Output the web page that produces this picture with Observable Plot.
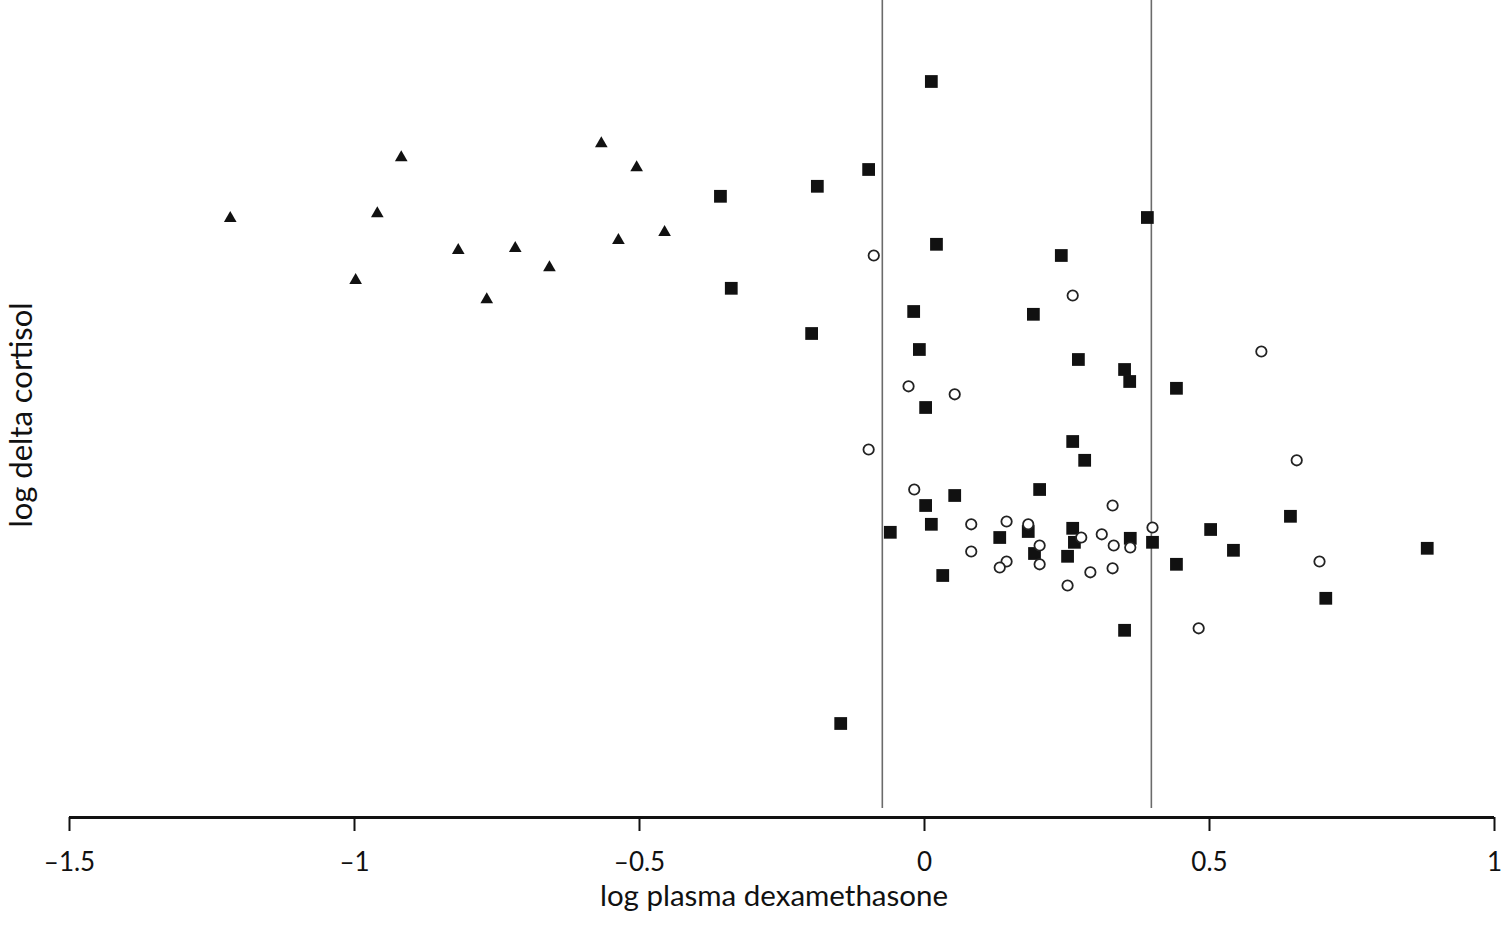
<!DOCTYPE html>
<html>
<head>
<meta charset="utf-8">
<script src="https://cdn.jsdelivr.net/npm/d3@7"></script>
<script src="https://cdn.jsdelivr.net/npm/@observablehq/plot@0.6"></script>
<style>
  html, body { margin: 0; padding: 0; background: #fff; }
  #chart { width: 1511px; height: 939px; }
</style>
</head>
<body>
<div id="chart"></div>
<script>
// Group 1: filled triangles
const triX = [-1.218, -0.998, -0.960, -0.918, -0.818, -0.768, -0.718, -0.658, -0.567, -0.537, -0.505, -0.456];
const triY = [1.498, 1.343, 1.510, 1.650, 1.418, 1.295, 1.423, 1.375, 1.685, 1.443, 1.625, 1.463];

// Group 2: filled squares
const sqX = [0.012, -0.098, -0.188, -0.358, 0.021, 0.240, 0.391, -0.339, -0.019, 0.191,
             -0.198, -0.009, 0.270, 0.351, 0.360, 0.002, 0.442, 0.260, 0.281, 0.053,
             0.202, 0.002, 0.642, 0.012, -0.060, 0.132, 0.182, 0.193, 0.032, 0.260,
             0.263, 0.251, 0.361, 0.400, 0.502, 0.542, 0.442, 0.704, 0.351, 0.882, -0.147];
const sqY = [1.840, 1.620, 1.578, 1.553, 1.433, 1.405, 1.500, 1.323, 1.265, 1.258,
             1.210, 1.170, 1.145, 1.120, 1.090, 1.025, 1.073, 0.940, 0.893, 0.805,
             0.820, 0.780, 0.753, 0.733, 0.713, 0.700, 0.715, 0.660, 0.605, 0.723,
             0.688, 0.653, 0.698, 0.688, 0.720, 0.668, 0.633, 0.548, 0.468, 0.673, 0.235];

// Group 3: open circles
const circX = [-0.089, 0.260, 0.591, -0.028, 0.053, -0.098, 0.653, -0.018, 0.330, 0.082,
               0.144, 0.182, 0.202, 0.202, 0.082, 0.144, 0.132, 0.275, 0.311, 0.332,
               0.330, 0.291, 0.251, 0.361, 0.400, 0.693, 0.481];
const circY = [1.405, 1.305, 1.165, 1.078, 1.058, 0.920, 0.893, 0.820, 0.780, 0.733,
               0.740, 0.733, 0.680, 0.633, 0.665, 0.640, 0.625, 0.700, 0.708, 0.680,
               0.623, 0.613, 0.580, 0.675, 0.725, 0.640, 0.473];

// Reference cut-off lines (log plasma dexamethasone)
const cutoffs = [-0.074, 0.398];

// Axis ticks and labels
const xTicks = [-1.5, -1, -0.5, 0, 0.5, 1];
const xLabel = ["log plasma dexamethasone"];
const yLabel = ["log delta cortisol"];

const tri = triX.map((x, i) => ({x, y: triY[i]}));
const sq = sqX.map((x, i) => ({x, y: sqY[i]}));
const circ = circX.map((x, i) => ({x, y: circY[i]}));

const chart = Plot.plot({
  width: 1511,
  height: 939,
  marginLeft: 69,
  marginRight: 17,
  marginTop: 0,
  marginBottom: 122,
  x: {domain: [-1.5, 1]},
  y: {domain: [0, 2.0425], axis: null},
  style: {fontFamily: "Lato, 'Open Sans', sans-serif", fontSize: "26px", background: "#fff", color: "#111"},
  marks: [
    Plot.ruleX(cutoffs, {x: d => d, stroke: "#6b6b6b", strokeWidth: 1.6, insetBottom: 9}),
    Plot.ruleY([0], {stroke: "#111", strokeWidth: 3}),
    Plot.axisX(xTicks, {
      tickSize: 14, tickPadding: 21, strokeWidth: 2, label: null,
      fontSize: 26, tickFormat: d => String(d).replace("-", "\u2013")
    }),
    Plot.dot(tri, {x: "x", y: "y", symbol: "triangle", r: 4.7, fill: "#111", stroke: "none"}),
    Plot.dot(sq, {x: "x", y: "y", symbol: "square", r: 7.2, fill: "#111", stroke: "none"}),
    Plot.dot(circ, {x: "x", y: "y", symbol: "circle", r: 5.2, fill: "#fff", stroke: "#222", strokeWidth: 1.8}),
    Plot.text(xLabel, {text: d => d, frameAnchor: "bottom", textAnchor: "middle", dx: -8, dy: 88, fontSize: 29.5, fill: "#111"}),
    Plot.text(yLabel, {text: d => d, frameAnchor: "left", textAnchor: "middle", rotate: -90, dx: -47, dy: 6, fontSize: 31, fill: "#111"})
  ]
});
document.getElementById("chart").appendChild(chart);
</script>
</body>
</html>
